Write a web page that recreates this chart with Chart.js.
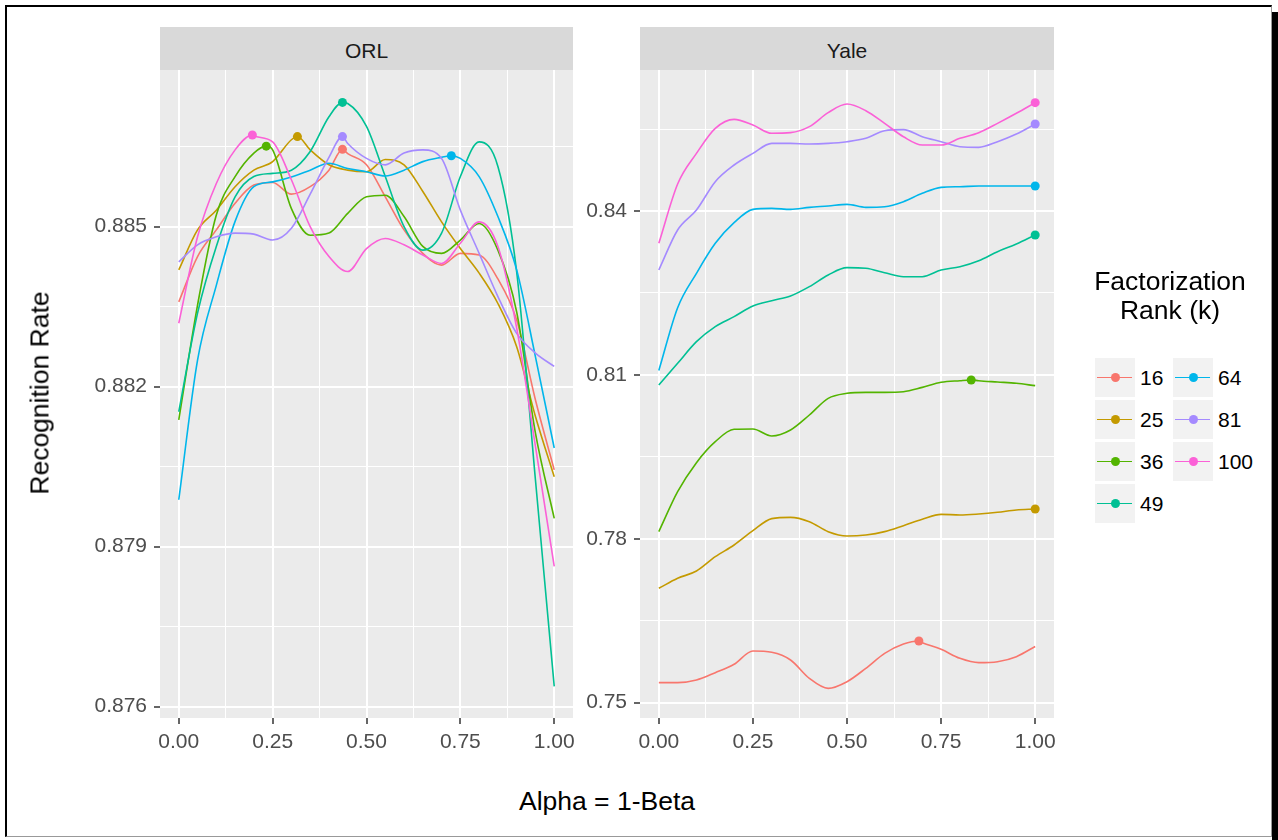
<!DOCTYPE html>
<html>
<head>
<meta charset="utf-8">
<script src="https://cdn.jsdelivr.net/npm/chart.js@4.4.1/dist/chart.umd.min.js"></script>
<style>
  html, body { margin: 0; padding: 0; background: #fff; }
  body { width: 1278px; height: 840px; overflow: hidden; position: relative; font-family: "Liberation Sans", Arial, sans-serif; }
  #frame { position: absolute; left: 5px; top: 5px; width: 1264px; height: 829px;
           border-left: 2px solid #000; border-top: 2px solid #000; border-right: 1px solid #999; border-bottom: 1px solid #999; }
  #shadow { position: absolute; left: 1272px; top: 12px; width: 6px; height: 828px; background: #000; }
  .strip { position: absolute; top: 27px; height: 43px; background: #D9D9D9; color: #1A1A1A;
           font-size: 21px; line-height: 48px; text-align: center; }
  .cv { position: absolute; top: 0; }
  #ytitle { position: absolute; left: 40px; top: 393px; transform: translate(-50%, -50%) rotate(-90deg);
            font-size: 26.5px; white-space: nowrap; color: #000; }
  #xtitle { position: absolute; left: 607px; top: 801px; transform: translate(-50%, -50%);
            font-size: 26.5px; white-space: nowrap; color: #000; }
  #legTitle { position: absolute; left: 1070px; width: 200px; top: 267px; text-align: center;
              font-size: 26.5px; line-height: 29px; color: #000; }
  .key { position: absolute; width: 40px; height: 39px; background: #F2F2F2; }
  .key .ln { position: absolute; left: 2px; right: 3px; top: 18.5px; height: 1.6px; }
  .key .pt { position: absolute; left: 15.5px; top: 15px; width: 9px; height: 9px; border-radius: 50%; }
  .klab { position: absolute; font-size: 21px; line-height: 39px; color: #000; }
</style>
</head>
<body>
<div id="frame"></div>
<div id="shadow"></div>
<div class="strip" style="left:160px;width:413px;">ORL</div>
<div class="strip" style="left:640px;width:414px;">Yale</div>
<canvas id="orl" class="cv" style="left:0px;" width="590" height="780"></canvas>
<canvas id="yale" class="cv" style="left:570px;" width="510" height="780"></canvas>
<div id="ytitle">Recognition Rate</div>
<div id="xtitle">Alpha = 1-Beta</div>
<div id="legTitle">Factorization<br>Rank (k)</div>
<div id="legend"></div>

<script>
// ---------------- DATA ----------------
const alphaGrid = [0, 0.05, 0.1, 0.15, 0.2, 0.25, 0.3, 0.35, 0.4, 0.45, 0.5, 0.55, 0.6, 0.65, 0.7, 0.75, 0.8, 0.85, 0.9, 0.95, 1.0];
const rankLabels = ['16', '25', '36', '49', '64', '81', '100'];

// ORL panel
const orl16  = [0.88359, 0.88444, 0.88494, 0.88544, 0.88578, 0.88583, 0.88561, 0.88575, 0.88606, 0.88637, 0.88616, 0.88556, 0.88494, 0.88450, 0.88428, 0.88450, 0.88447, 0.88402, 0.88325, 0.88175, 0.88044];
const orl25  = [0.88419, 0.88494, 0.88531, 0.88575, 0.88606, 0.88622, 0.88663, 0.88644, 0.88616, 0.88606, 0.88603, 0.88626, 0.88616, 0.88566, 0.88509, 0.88459, 0.88413, 0.88356, 0.88275, 0.88144, 0.88031];
const orl36  = [0.88138, 0.88353, 0.88522, 0.88594, 0.88638, 0.88644, 0.88534, 0.88484, 0.88488, 0.88525, 0.88556, 0.88559, 0.88519, 0.88463, 0.88450, 0.88475, 0.88506, 0.88456, 0.88340, 0.88113, 0.87953];
const orl49  = [0.88153, 0.88338, 0.88463, 0.88556, 0.88594, 0.88600, 0.88606, 0.88641, 0.88706, 0.88731, 0.88688, 0.88594, 0.88500, 0.88456, 0.88488, 0.88594, 0.88659, 0.88613, 0.88415, 0.88025, 0.87638];
const orl64  = [0.87988, 0.88250, 0.88390, 0.88510, 0.88575, 0.88584, 0.88593, 0.88606, 0.88619, 0.88609, 0.88603, 0.88595, 0.88606, 0.88622, 0.88630, 0.88628, 0.88594, 0.88519, 0.88419, 0.88256, 0.88085];
const orl81  = [0.88434, 0.88466, 0.88481, 0.88488, 0.88486, 0.88475, 0.88497, 0.88561, 0.88630, 0.88656, 0.88628, 0.88616, 0.88638, 0.88644, 0.88628, 0.88531, 0.88450, 0.88369, 0.88300, 0.88263, 0.88238];
const orl100 = [0.88319, 0.88481, 0.88581, 0.88644, 0.88670, 0.88659, 0.88588, 0.88500, 0.88444, 0.88416, 0.88459, 0.88478, 0.88466, 0.88447, 0.88431, 0.88469, 0.88509, 0.88463, 0.88310, 0.88088, 0.87863];
const orlPeakAlpha = [0.436, 0.316, 0.233, 0.436, 0.726, 0.436, 0.196];
const orlPeakValue = [0.88645, 0.88669, 0.88651, 0.88733, 0.88633, 0.88669, 0.88672];

// Yale panel
const yale16  = [0.75367, 0.75367, 0.75416, 0.75550, 0.75703, 0.75946, 0.75922, 0.75782, 0.75446, 0.75263, 0.75385, 0.75629, 0.75904, 0.76075, 0.76099, 0.75977, 0.75812, 0.75733, 0.75751, 0.75843, 0.76030];
const yale25  = [0.77094, 0.77277, 0.77411, 0.77673, 0.77887, 0.78149, 0.78369, 0.78393, 0.78314, 0.78131, 0.78052, 0.78070, 0.78131, 0.78241, 0.78357, 0.78448, 0.78436, 0.78454, 0.78485, 0.78527, 0.78546];
const yale36  = [0.78131, 0.78863, 0.79394, 0.79778, 0.80004, 0.80010, 0.79882, 0.79992, 0.80266, 0.80571, 0.80663, 0.80681, 0.80681, 0.80693, 0.80772, 0.80864, 0.80894, 0.80894, 0.80870, 0.80846, 0.80803];
const yale49  = [0.80815, 0.81212, 0.81608, 0.81883, 0.82066, 0.82261, 0.82359, 0.82444, 0.82615, 0.82829, 0.82963, 0.82951, 0.82871, 0.82798, 0.82798, 0.82920, 0.82981, 0.83091, 0.83256, 0.83396, 0.83561];
const yale64  = [0.81080, 0.82230, 0.82859, 0.83408, 0.83786, 0.84030, 0.84049, 0.84030, 0.84067, 0.84092, 0.84122, 0.84067, 0.84079, 0.84171, 0.84323, 0.84433, 0.84445, 0.84458, 0.84458, 0.84458, 0.84458];
const yale81  = [0.82920, 0.83652, 0.84018, 0.84537, 0.84842, 0.85055, 0.85238, 0.85238, 0.85226, 0.85238, 0.85269, 0.85330, 0.85470, 0.85490, 0.85360, 0.85269, 0.85177, 0.85165, 0.85269, 0.85409, 0.85592];
const yale100 = [0.83408, 0.84494, 0.85055, 0.85513, 0.85678, 0.85574, 0.85422, 0.85434, 0.85544, 0.85800, 0.85958, 0.85836, 0.85604, 0.85360, 0.85208, 0.85208, 0.85330, 0.85434, 0.85604, 0.85788, 0.85983];
const yalePeakAlpha = [0.691, 1.0, 0.830, 1.0, 1.0, 1.0, 1.0];
const yalePeakValue = [0.76130, 0.78546, 0.80907, 0.83561, 0.84458, 0.85592, 0.85983];

// Axis ticks
const xMajorTicks = [0, 0.25, 0.5, 0.75, 1.0];
const xMinorTicks = [0.125, 0.375, 0.625, 0.875];
const orlMajorTicks = [0.876, 0.879, 0.882, 0.885];
const orlMinorTicks = [0.8775, 0.8805, 0.8835, 0.8865];
const yaleMajorTicks = [0.75, 0.78, 0.81, 0.84];
const yaleMinorTicks = [0.765, 0.795, 0.825, 0.855];

// ---------------- STYLE ----------------
const rankColors = ['#F8766D', '#C49A00', '#53B400', '#00C094', '#00B6EB', '#A58AFF', '#FB61D7'];
const FONT = '"Liberation Sans", Arial, sans-serif';

function near(a, b) { return Math.abs(a - b) < 1e-7; }
function isIn(list, v) { return list.some(t => near(t, v)); }

function buildPoints(values, pa, pv) {
  const pts = alphaGrid.map((a, i) => ({ x: a, y: values[i] }));
  const j = pts.findIndex(p => near(p.x, pa));
  if (j >= 0) pts[j].y = pv;
  else { pts.push({ x: pa, y: pv }); pts.sort((p, q) => p.x - q.x); }
  return pts;
}

const panelBg = {
  id: 'panelBg',
  beforeDraw(chart) {
    const { ctx, chartArea: a } = chart;
    ctx.save();
    ctx.fillStyle = '#EBEBEB';
    ctx.fillRect(a.left, a.top, a.right - a.left, a.bottom - a.top);
    ctx.restore();
  }
};

function makePanel(id, seriesList, peakA, peakV, yMin, yMax, yMajor, yMinor, yDec, yAxisWidth, padRight) {
  const datasets = seriesList.map((vals, k) => {
    const pts = buildPoints(vals, peakA[k], peakV[k]);
    return {
      label: rankLabels[k],
      data: pts,
      borderColor: rankColors[k],
      backgroundColor: rankColors[k],
      borderWidth: 1.6,
      cubicInterpolationMode: 'monotone',
      tension: 0.4,
      pointRadius: pts.map(p => near(p.x, peakA[k]) ? 4.5 : 0),
      pointHoverRadius: 0,
      pointBorderWidth: 0,
      fill: false,
      order: seriesList.length - k
    };
  });
  const yAll = yMajor.concat(yMinor).sort((a, b) => a - b);
  const xAll = xMajorTicks.concat(xMinorTicks).sort((a, b) => a - b);
  return new Chart(document.getElementById(id), {
    type: 'line',
    data: { datasets },
    plugins: [panelBg],
    options: {
      responsive: false,
      animation: false,
      devicePixelRatio: 1,
      layout: { padding: { top: 70, right: padRight, bottom: 0, left: 0 } },
      plugins: { legend: { display: false }, tooltip: { enabled: false } },
      events: [],
      scales: {
        x: {
          type: 'linear', min: -0.05, max: 1.05, bounds: 'data',
          afterBuildTicks: s => { s.ticks = xAll.map(v => ({ value: v })); },
          afterFit: s => { s.height = 62; },
          ticks: {
            autoSkip: false, maxRotation: 0, minRotation: 0, padding: 6,
            color: '#4D4D4D', font: { family: FONT, size: 21 },
            callback: v => isIn(xMajorTicks, v) ? v.toFixed(2) : ''
          },
          grid: {
            color: '#FFFFFF',
            lineWidth: c => (c.tick && isIn(xMajorTicks, c.tick.value)) ? 2 : 1,
            tickLength: 6,
            tickWidth: 1.5,
            tickColor: c => (c.tick && isIn(xMajorTicks, c.tick.value)) ? '#333333' : 'rgba(0,0,0,0)'
          },
          border: { display: false }
        },
        y: {
          type: 'linear', min: yMin, max: yMax, bounds: 'data',
          afterBuildTicks: s => { s.ticks = yAll.map(v => ({ value: v })); },
          afterFit: s => { s.width = yAxisWidth; },
          ticks: {
            autoSkip: false, padding: 7,
            color: '#4D4D4D', font: { family: FONT, size: 21 },
            callback: v => isIn(yMajor, v) ? v.toFixed(yDec) : ''
          },
          grid: {
            color: '#FFFFFF',
            lineWidth: c => (c.tick && isIn(yMajor, c.tick.value)) ? 2 : 1,
            tickLength: 6,
            tickWidth: 1.5,
            tickColor: c => (c.tick && isIn(yMajor, c.tick.value)) ? '#333333' : 'rgba(0,0,0,0)'
          },
          border: { display: false }
        }
      }
    }
  });
}

makePanel('orl', [orl16, orl25, orl36, orl49, orl64, orl81, orl100], orlPeakAlpha, orlPeakValue,
          0.875788, 0.887938, orlMajorTicks, orlMinorTicks, 3, 160, 17);
makePanel('yale', [yale16, yale25, yale36, yale49, yale64, yale81, yale100], yalePeakAlpha, yalePeakValue,
          0.74720, 0.86581, yaleMajorTicks, yaleMinorTicks, 2, 70, 26);

// ---------------- LEGEND ----------------
const leg = document.getElementById('legend');
rankLabels.forEach((lab, i) => {
  const col = Math.floor(i / 4), row = i % 4;
  const left = 1095 + col * 78, top = 358 + row * 42;
  const key = document.createElement('div');
  key.className = 'key';
  key.style.left = left + 'px';
  key.style.top = top + 'px';
  const ln = document.createElement('div'); ln.className = 'ln'; ln.style.background = rankColors[i];
  const pt = document.createElement('div'); pt.className = 'pt'; pt.style.background = rankColors[i];
  key.appendChild(ln); key.appendChild(pt);
  leg.appendChild(key);
  const t = document.createElement('div');
  t.className = 'klab';
  t.style.left = (left + 45) + 'px';
  t.style.top = top + 'px';
  t.textContent = lab;
  leg.appendChild(t);
});
</script>
</body>
</html>
